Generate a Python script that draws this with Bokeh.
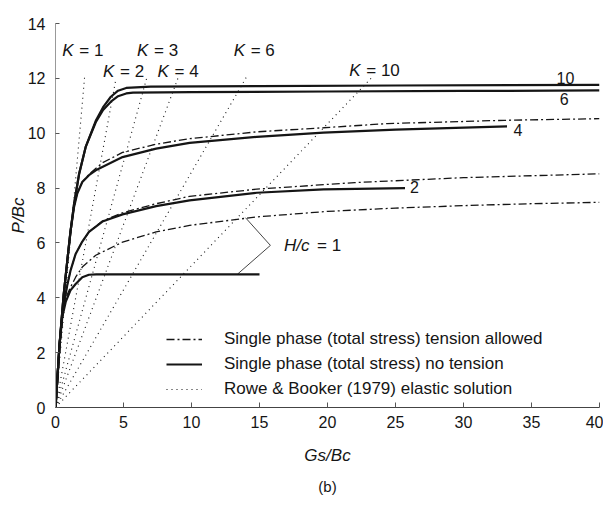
from bokeh.plotting import figure
from bokeh.models import Range1d, FixedTicker, Legend, LegendItem, Title
from bokeh.core.properties import value
from bokeh.embed import file_html
from bokeh.resources import INLINE

# ---- data (Gs/Bc, P/Bc) ----
x_ticks = [0, 5, 10, 15, 20, 25, 30, 35, 40]
y_ticks = [0, 2, 4, 6, 8, 10, 12, 14]

# no tension (solid)
gs_h10 = [0, 0.3, 0.6, 0.9, 1.1, 1.36, 1.73, 2.22, 2.96, 3.5, 4.07, 4.6, 5.2, 7.0, 15, 25, 40]
pb_h10 = [0, 2.3, 4.1, 5.5, 6.4, 7.4, 8.5, 9.5, 10.45, 10.95, 11.33, 11.55, 11.65, 11.7, 11.72, 11.74, 11.76]
gs_h6 = [0, 0.3, 0.6, 0.9, 1.1, 1.36, 1.73, 2.22, 2.96, 3.5, 4.07, 4.6, 5.2, 5.7, 10, 20, 30, 40]
pb_h6 = [0, 2.3, 4.1, 5.5, 6.4, 7.4, 8.5, 9.5, 10.4, 10.85, 11.15, 11.35, 11.45, 11.48, 11.5, 11.52, 11.54, 11.56]
gs_h4 = [0, 0.3, 0.6, 0.9, 1.1, 1.36, 1.6, 1.97, 2.46, 2.96, 4.93, 7.4, 9.86, 14.8, 19.7, 25, 33.2]
pb_h4 = [0, 2.3, 4.1, 5.5, 6.4, 7.3, 7.8, 8.22, 8.47, 8.65, 9.13, 9.44, 9.65, 9.87, 10.02, 10.13, 10.25]
gs_h2 = [0, 0.3, 0.5, 0.7, 0.86, 1.11, 1.48, 1.97, 2.46, 3.45, 4.93, 7.4, 9.86, 14.8, 19.7, 25.7]
pb_h2 = [0, 2.3, 3.4, 4.0, 4.45, 5.0, 5.6, 6.05, 6.4, 6.78, 7.04, 7.34, 7.55, 7.83, 7.95, 8.0]
gs_h1 = [0, 0.3, 0.5, 0.75, 1.1, 1.48, 1.97, 2.46, 3.0, 15]
pb_h1 = [0, 2.3, 3.3, 3.85, 4.27, 4.5, 4.75, 4.84, 4.85, 4.85]

# tension allowed (dash-dot)
gs_t4 = [0, 0.3, 0.6, 0.9, 1.1, 1.36, 1.6, 1.97, 2.46, 3.45, 4.93, 7.4, 9.86, 14.8, 19.7, 24.4, 33, 40]
pb_t4 = [0, 2.3, 4.1, 5.5, 6.4, 7.3, 7.8, 8.22, 8.5, 8.92, 9.3, 9.6, 9.8, 10.05, 10.2, 10.35, 10.47, 10.53]
gs_t2 = [0, 0.3, 0.5, 0.7, 0.86, 1.11, 1.48, 1.97, 2.46, 3.45, 4.93, 7.4, 9.86, 14.8, 22, 30, 40]
pb_t2 = [0, 2.3, 3.4, 4.0, 4.45, 5.0, 5.6, 6.05, 6.4, 6.8, 7.1, 7.43, 7.7, 7.96, 8.2, 8.38, 8.52]
gs_t1 = [0, 0.3, 0.6, 0.85, 1.11, 1.48, 1.97, 2.96, 4.93, 7.4, 9.86, 14.8, 20, 25, 30, 35, 40]
pb_t1 = [0, 2.3, 3.6, 4.1, 4.39, 4.75, 5.12, 5.55, 6.03, 6.4, 6.64, 6.95, 7.15, 7.27, 7.36, 7.43, 7.48]

# Rowe & Booker elastic lines, from origin to end point
k_labels = ["= 1", "= 2", "= 3", "= 4", "= 6", "= 10"]
k_end_gs = [2.15, 4.45, 6.7, 9.0, 14.1, 23.2]
k_end_pb = [12.1, 12.0, 12.0, 12.0, 12.1, 12.0]
k_label_gs = [0.5, 3.5, 6.0, 7.5, 13.1, 21.6]
k_label_pb = [13.0, 12.25, 13.0, 12.25, 13.0, 12.3]

# H/c labels at curve ends
hc_labels = ["10", "6", "4", "2"]
hc_label_gs = [37.5, 37.4, 34.0, 26.4]
hc_label_pb = [12.02, 11.25, 10.13, 8.05]

# H/c = 1 leader
leader_gs = [13.97, 15.8, 13.4]
leader_pb = [6.92, 5.91, 4.87]
leader_text_gs = 16.8
leader_text_pb = 5.91

legend_labels = [
    "Single phase (total stress) tension allowed",
    "Single phase (total stress) no tension",
    "Rowe & Booker (1979) elastic solution",
]

FONT = "Liberation Sans"
INK = "#151515"

p = figure(width=603, height=504, output_backend="svg", toolbar_location=None,
           x_range=Range1d(0, 40), y_range=Range1d(0, 14),
           min_border_left=55, min_border_right=4, min_border_top=23, min_border_bottom=97)
p.grid.grid_line_color = None
p.outline_line_color = None
p.background_fill_color = "white"

# dotted elastic lines
r_dot = p.multi_line(xs=[[0, g] for g in k_end_gs], ys=[[0, v] for v in k_end_pb],
                     line_color=INK, line_width=1.1, line_dash="1 4")

# dash-dot curves
r_dd = p.multi_line(xs=[gs_t1, gs_t2, gs_t4], ys=[pb_t1, pb_t2, pb_t4],
                    line_color=INK, line_width=1.3, line_dash="8 3 2 3")

# solid curves
r_solid = p.multi_line(xs=[gs_h1, gs_h2, gs_h4, gs_h6, gs_h10],
                       ys=[pb_h1, pb_h2, pb_h4, pb_h6, pb_h10],
                       line_color=INK, line_width=2.2)

# leader for H/c = 1
p.line(leader_gs, leader_pb, line_color=INK, line_width=0.8)
p.text(x=[leader_text_gs], y=[leader_text_pb], text=["H/c"], text_font=value(FONT),
       text_font_size="17px", text_font_style="italic", text_baseline="middle",
       text_align="left", text_color=INK)
p.text(x=[leader_text_gs], y=[leader_text_pb], text=["= 1"], x_offset=33, text_font=value(FONT),
       text_font_size="17px", text_baseline="middle", text_align="left", text_color=INK)

# K labels
p.text(x=k_label_gs, y=k_label_pb, text=["K"] * len(k_label_gs), text_font=value(FONT),
       text_font_size="17px", text_font_style="italic", text_baseline="middle",
       text_align="left", text_color=INK)
p.text(x=k_label_gs, y=k_label_pb, text=k_labels, x_offset=17, text_font=value(FONT),
       text_font_size="17px", text_baseline="middle", text_align="left", text_color=INK)

# curve end labels
p.text(x=hc_label_gs, y=hc_label_pb, text=hc_labels, text_font=value(FONT),
       text_font_size="16px", text_baseline="middle", text_align="center", text_color=INK)

legend = Legend(items=[LegendItem(label=legend_labels[0], renderers=[r_dd]),
                       LegendItem(label=legend_labels[1], renderers=[r_solid]),
                       LegendItem(label=legend_labels[2], renderers=[r_dot])],
                location=(111, 8), padding=0, margin=0, spacing=5,
                glyph_width=36, glyph_height=20, label_height=20, label_standoff=22,
                label_text_font=FONT, label_text_font_size="17px", label_text_color=INK,
                border_line_color=None, background_fill_alpha=0)
p.add_layout(legend, "center")

# axes
p.xaxis.ticker = FixedTicker(ticks=x_ticks)
p.yaxis.ticker = FixedTicker(ticks=y_ticks)
for ax in (p.xaxis, p.yaxis):
    ax.major_label_text_font = FONT
    ax.major_label_text_font_size = "16px"
    ax.major_label_text_color = INK
    ax.axis_label_text_font = FONT
    ax.axis_label_text_font_size = "17px"
    ax.axis_label_text_font_style = "italic"
    ax.axis_label_text_color = INK
    ax.minor_tick_line_color = None
    ax.major_tick_line_color = "#555555"
p.xaxis.axis_label = "Gs/Bc"
p.yaxis.axis_label = "P/Bc"
p.xaxis.axis_line_color = "#444444"
p.yaxis.axis_line_color = "#999999"
p.xaxis.major_tick_in = 5
p.xaxis.major_tick_out = 0
p.yaxis.major_tick_in = 4
p.yaxis.major_tick_out = 0
p.xaxis.major_label_standoff = 8
p.yaxis.major_label_standoff = 10
p.xaxis.axis_label_standoff = 15
p.yaxis.axis_label_standoff = -3

# panel tag under the axis title
p.add_layout(Title(text="(b)", align="center", standoff=16, text_font=FONT,
                   text_font_size="15px", text_font_style="normal", text_color=INK), "below")

open("out.html", "w").write(file_html(p, INLINE))
